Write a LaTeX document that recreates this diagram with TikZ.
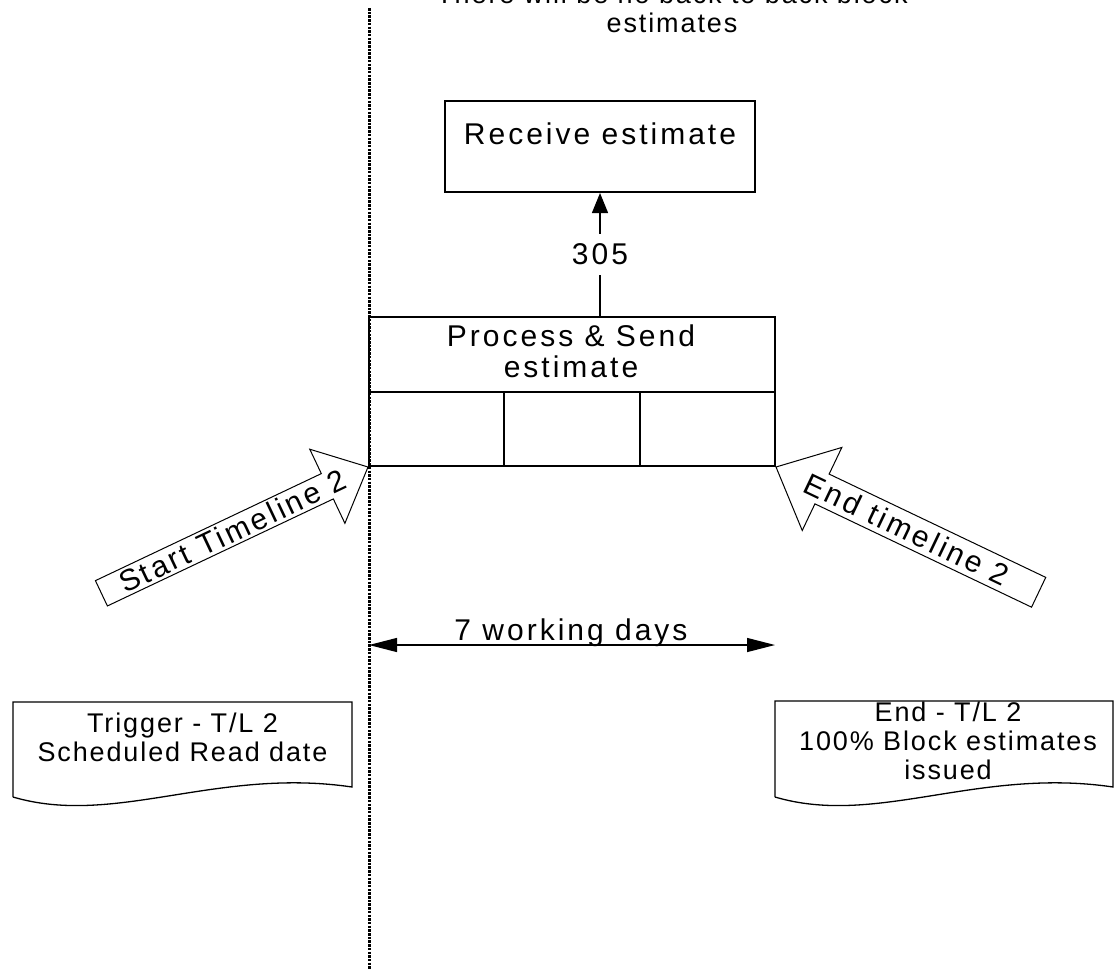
\documentclass[tikz,border=0pt]{standalone}
\usepackage{fontspec}
\setmainfont{Liberation Sans}
\newfontfamily\bigf[LetterSpace=10]{Liberation Sans}
\newfontfamily\smallf[LetterSpace=7]{Liberation Sans}
\usetikzlibrary{arrows.meta,calc}
\begin{document}
\begin{tikzpicture}[x=1pt,y=1pt,
  box/.style={draw, line width=2pt, inner sep=0pt},
  lbl/.style={inner sep=0pt, font=\bigf\fontsize{30}{31}\selectfont, align=center},
  lbla/.style={inner sep=0pt, font=\bigf\fontsize{30}{31}\selectfont},
  lbls/.style={inner sep=0pt, font=\smallf\fontsize{27}{29}\selectfont, align=center},
  blockarrow/.style={draw, line width=1pt, fill=white, line join=miter},
  docshape/.style={draw, line width=1.3pt},
  conn/.style={line width=1.3pt},
  dotline/.style={line width=3pt, dash pattern=on 2.5pt off 1.2pt},
]
\useasboundingbox (0,0) rectangle (1115,-969);
\clip (0,0) rectangle (1115,-969);

% note at top
\node[lbls, anchor=south] (note) at (672,-33) {There will be no back to back block\\estimates};

% boxes
\node[box, minimum width=310, minimum height=91] (recv) at (600,-146.5) {};
\node[lbl, anchor=base] (recvt) at (600,-144) {Receive estimate};

\node[box, minimum width=406, minimum height=149] (proc) at (572,-391.5) {};
\draw[line width=2pt] (proc.west) -- (proc.east);
\draw[line width=2pt] ($(proc.west)!1/3!(proc.east)$) -- ($(proc.south west)!1/3!(proc.south east)$);
\draw[line width=2pt] ($(proc.west)!2/3!(proc.east)$) -- ($(proc.south west)!2/3!(proc.south east)$);
\node[lbl, anchor=south] (proct) at (571,-378) {Process \& Send\\estimate};

% 305 connector
\draw[conn, -{Triangle[length=20pt,width=16pt]}] (recv.south |- proc.north) -- (recv.south)
  node[midway, fill=white, inner xsep=2pt, inner ysep=10pt, font=\bigf\fontsize{30}{31}\selectfont] (lab305) {305};

% block arrows
\begin{scope}[shift={(proc.south west)}, rotate=25.35]
  \draw[blockarrow] (0,0) -- (-45,-41) -- (-45,-14) -- (-295,-14) -- (-295,14) -- (-45,14) -- (-45,41) -- cycle;
  \node[lbla, rotate=25.35] (startt) at (-150,0) {Start Timeline 2};
\end{scope}
\begin{scope}[shift={(proc.south east)}, rotate=154.5]
  \draw[blockarrow] (0,0) -- (-51,-46) -- (-51,-16.5) -- (-291,-16.5) -- (-291,16.5) -- (-51,16.5) -- (-51,46) -- cycle;
  \node[lbla, rotate=-25.5] (endt) at (-145,0) {End timeline 2};
\end{scope}

% 7 working days
\coordinate (dL) at (369,-645);
\coordinate (dR) at (775,-645);
\draw[conn, {Triangle[length=28pt,width=14pt]}-{Triangle[length=28pt,width=14pt]}] (dL) -- (dR);
\node[lbl, anchor=base] (days) at (571,-640) {7 working days};

% documents
\draw[docshape] (13,-797) -- (13,-702) -- (352,-702) -- (352,-787)
  .. controls (216.4,-767) and (114.7,-827) .. (13,-797);
\node[lbls, anchor=south] (trig) at (182.5,-762) {Trigger - T/L 2\\Scheduled Read date};

\draw[docshape] (775,-797) -- (775,-701) -- (1113,-701) -- (1113,-787)
  .. controls (977.8,-767) and (876.4,-827) .. (775,-797);
\node[lbls, anchor=south] (endd) at (948,-780) {End - T/L 2\\100\% Block estimates\\issued};

% dotted timeline
\coordinate (vtop) at (369,-8);
\coordinate (vbot) at (369,-969);
\draw[dotline] (vtop) -- (vbot);
\end{tikzpicture}
\end{document}
